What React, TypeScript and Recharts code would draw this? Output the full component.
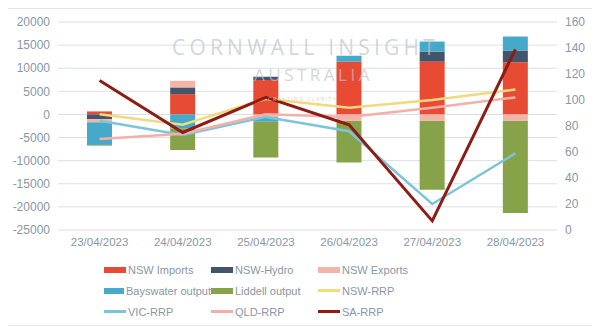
import { ComposedChart, Bar, Line, XAxis, YAxis, CartesianGrid } from 'recharts'

// values (MW on the left axis, $/MWh on the right)
const DATES = ['23/04/2023', '24/04/2023', '25/04/2023', '26/04/2023', '27/04/2023', '28/04/2023']
const NSW_IMPORTS = [650, 4400, 7450, 11400, 11430, 11300]
const NSW_HYDRO = [-1000, 1450, 720, 0, 2170, 2520]
const NSW_EXPORTS = [-700, 1430, -600, -1400, -1400, -1400]
const BAYSWATER = [-4900, -3000, -1000, 1300, 2170, 3040]
const LIDDELL = [-150, -4700, -7740, -9000, -14900, -19900]
const NSW_RRP = [89, 81, 101, 94, 100, 108]
const VIC_RRP = [84, 73, 87, 76, 20, 59]
const QLD_RRP = [70, 74, 89, 87, 94, 102]
const SA_RRP = [115, 75, 102, 81, 7, 139]

const LEFT_TICKS = [-25000, -20000, -15000, -10000, -5000, 0, 5000, 10000, 15000, 20000]
const RIGHT_TICKS = [0, 20, 40, 60, 80, 100, 120, 140, 160]

const data = DATES.map((date, i) => ({
  date,
  imports: NSW_IMPORTS[i],
  hydro: NSW_HYDRO[i],
  exports: NSW_EXPORTS[i],
  bayswater: BAYSWATER[i],
  liddell: LIDDELL[i],
  nsw: NSW_RRP[i],
  vic: VIC_RRP[i],
  qld: QLD_RRP[i],
  sa: SA_RRP[i],
}))

const BARS = [
  { key: 'imports', name: 'NSW Imports', color: '#e84b34' },
  { key: 'hydro', name: 'NSW-Hydro', color: '#44546a' },
  { key: 'exports', name: 'NSW Exports', color: '#f4b5a9' },
  { key: 'bayswater', name: 'Bayswater output', color: '#46a9c9' },
  { key: 'liddell', name: 'Liddell output', color: '#86a349' },
]

const LINES = [
  { key: 'nsw', name: 'NSW-RRP', color: '#f1d97c', width: 2.5 },
  { key: 'vic', name: 'VIC-RRP', color: '#7cc4dc', width: 2.5 },
  { key: 'qld', name: 'QLD-RRP', color: '#f4b0a8', width: 2.5 },
  { key: 'sa', name: 'SA-RRP', color: '#8e1b14', width: 3 },
]

const TEXT = '#8a97a6'
const FONT = 'Arial, "Liberation Sans", sans-serif'

function LegendBox() {
  const items = [
    ...BARS.map(b => ({ ...b, thick: true })),
    ...LINES.map(l => ({ ...l, thick: false })),
  ]
  return (
    <div
      style={{
        position: 'absolute',
        left: 104,
        top: 259,
        display: 'grid',
        gridTemplateColumns: '107px 107px 107px',
        gridAutoRows: '21px',
        fontFamily: FONT,
        fontSize: 11,
        color: TEXT,
      }}
    >
      {items.map(it => (
        <div key={it.key} style={{ display: 'flex', alignItems: 'center', whiteSpace: 'nowrap' }}>
          <span
            style={{
              display: 'inline-block',
              width: 22,
              height: it.thick ? 6 : 2.5,
              background: it.color,
              marginRight: 2,
            }}
          />
          {it.name}
        </div>
      ))}
    </div>
  )
}

export default function App() {
  return (
    <div style={{ position: 'relative', width: 600, height: 336, margin: -8, background: '#fff' }}>
      <div
        style={{
          position: 'absolute', left: 4, top: 8, width: 591, height: 318,
          border: '1px solid #e4e6e8', boxSizing: 'border-box',
        }}
      />
      <div style={{ position: 'absolute', left: 0, top: 0 }}>
        <ComposedChart
          width={600}
          height={336}
          data={data}
          stackOffset="sign"
          margin={{ top: 22, right: 0, left: 0, bottom: 82 }}
        >
          <CartesianGrid yAxisId="left" vertical={false} stroke="#dcdfe2" strokeWidth={1} />
          <XAxis
            dataKey="date"
            height={24}
            axisLine={false}
            tickLine={false}
            interval={0}
            tick={{ fontSize: 11.5, fill: TEXT, fontFamily: FONT }}
          />
          <YAxis
            yAxisId="left"
            width={58}
            domain={[-25000, 20000]}
            ticks={LEFT_TICKS}
            axisLine={false}
            tickLine={false}
            tick={{ fontSize: 12, fill: TEXT, fontFamily: FONT }}
          />
          <YAxis
            yAxisId="right"
            orientation="right"
            width={43}
            domain={[0, 160]}
            ticks={RIGHT_TICKS}
            axisLine={false}
            tickLine={false}
            tick={{ fontSize: 12, fill: TEXT, fontFamily: FONT, textAnchor: 'start' }}
          />
          {BARS.map(b => (
            <Bar
              key={b.key}
              yAxisId="left"
              dataKey={b.key}
              name={b.name}
              stackId="a"
              fill={b.color}
              barSize={25}
              isAnimationActive={false}
            />
          ))}
          {LINES.map(l => (
            <Line
              key={l.key}
              yAxisId="right"
              dataKey={l.key}
              name={l.name}
              stroke={l.color}
              strokeWidth={l.width}
              dot={false}
              activeDot={false}
              isAnimationActive={false}
            />
          ))}
        </ComposedChart>
      </div>
      <div
        style={{
          position: 'absolute', left: 0, top: 0, width: 600, height: 336,
          pointerEvents: 'none', fontFamily: '"Open Sans", Lato, sans-serif',
        }}
      >
        <div style={{ position: 'absolute', left: 172, top: 33, fontSize: 21, letterSpacing: 4.2, color: 'rgba(190,196,202,0.7)' }}>
          CORNWALL INSIGHT
        </div>
        <div style={{ position: 'absolute', left: 254, top: 63, fontSize: 17, letterSpacing: 3.5, color: 'rgba(190,196,202,0.7)' }}>
          AUSTRALIA
        </div>
        <div style={{ position: 'absolute', left: 268, top: 95, fontSize: 6, letterSpacing: 1, color: 'rgba(215,205,170,0.8)' }}>
          CREATING CLARITY
        </div>
      </div>
      <LegendBox />
    </div>
  )
}
